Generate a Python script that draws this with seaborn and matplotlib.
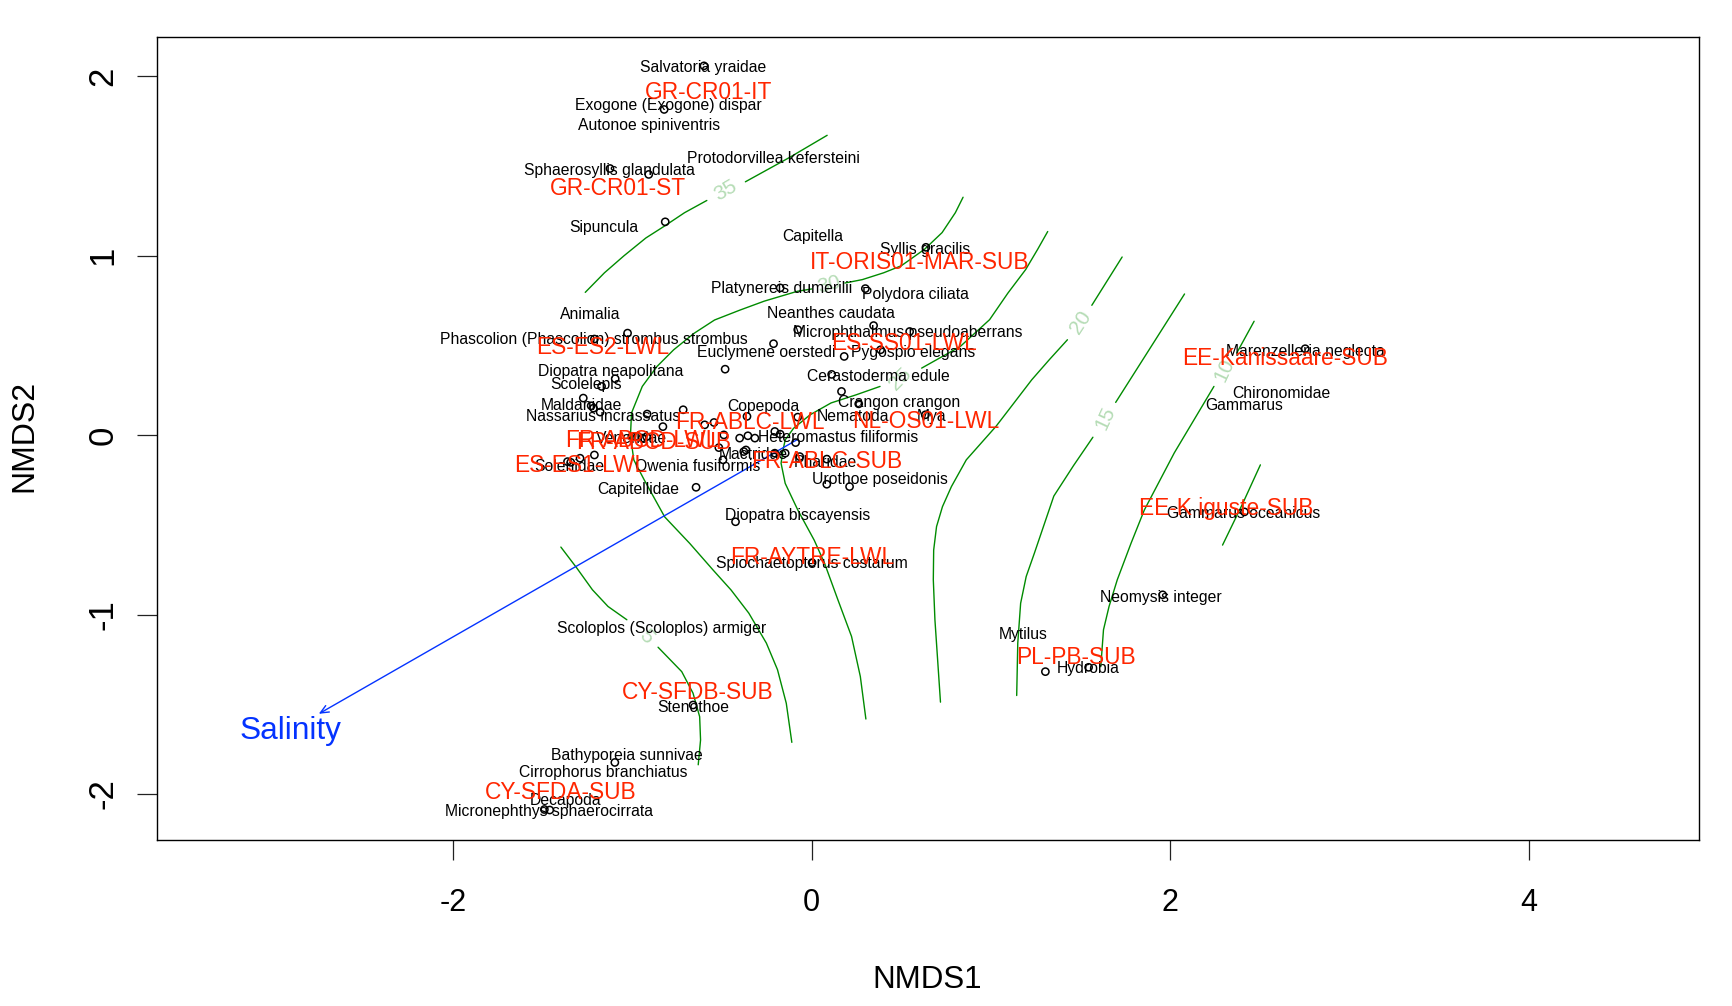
import numpy as np
import pandas as pd
import matplotlib
matplotlib.use("Agg")
import matplotlib.pyplot as plt
from matplotlib.transforms import offset_copy
import seaborn as sns

sns.set_theme(style="white")
plt.rcParams['font.family'] = ['Liberation Sans', 'DejaVu Sans']

species_points_x = [-0.601,-0.823,-1.125,-0.909,-0.817,0.637,-0.176,0.299,-1.027,-1.212,-0.078,0.345,0.546,-0.213,0.181,0.384,-0.483,-1.096,-1.172,0.111,0.166,0.262,-1.274,-1.230,-1.217,-1.180,-0.918,-0.717,-0.597,-0.545,-0.361,-0.078,0.634,-0.830,-0.490,-0.402,-0.356,-0.317,-0.206,-0.176,-0.090,-1.003,-0.969,-0.945,-0.921,-0.518,-0.367,-0.379,-0.206,-0.148,-0.067,0.084,-1.212,-1.292,-1.344,-1.362,-0.495,-0.645,0.084,0.211,-0.425,0.002,-0.662,-1.098,-1.461,-1.491,1.303,1.544,1.957,2.413,2.752]
species_points_y = [2.057,1.814,1.485,1.452,1.188,1.046,0.820,0.816,0.568,0.535,0.587,0.610,0.577,0.509,0.438,0.475,0.367,0.314,0.271,0.338,0.243,0.174,0.206,0.163,0.150,0.128,0.117,0.141,0.057,0.070,0.104,0.100,0.113,0.047,0.001,-0.017,-0.004,-0.017,0.020,0.005,-0.042,-0.008,-0.008,-0.017,-0.009,-0.070,-0.083,-0.092,-0.101,-0.101,-0.120,-0.134,-0.111,-0.129,-0.152,-0.148,-0.138,-0.291,-0.274,-0.287,-0.483,-0.711,-1.504,-1.824,-2.089,-2.086,-1.318,-1.294,-0.890,-0.428,0.481]

species_names = ["Salvatoria yraidae","Exogone (Exogone) dispar","Autonoe spiniventris","Protodorvillea kefersteini","Sphaerosyllis glandulata","Sipuncula","Capitella","Syllis gracilis","Platynereis dumerilii","Polydora ciliata","Neanthes caudata","Animalia","Phascolion (Phascolion) strombus strombus","Microphthalmus pseudoaberrans","Euclymene oerstedi","Pygospio elegans","Diopatra neapolitana","Cerastoderma edule","Scolelepis","Maldanidae","Crangon crangon","Copepoda","Nassarius incrassatus","Nematoda","Mya","Heteromastus filiformis","Veneridae","Mactridae","Pharidae","Solenidae","Owenia fusiformis","Capitellidae","Urothoe poseidonis","Diopatra biscayensis","Spiochaetopterus costarum","Scoloplos (Scoloplos) armiger","Stenothoe","Bathyporeia sunnivae","Cirrophorus branchiatus","Decapoda","Micronephthys sphaerocirrata","Mytilus","Hydrobia","Neomysis integer","Gammarus oceanicus","Gammarus","Chironomidae","Marenzelleria neglecta"]
species_x = [-0.604,-0.801,-0.906,-0.216,-1.128,-1.159,0.006,0.635,-0.166,0.579,0.105,-1.233,-1.214,0.536,-0.253,0.567,-1.122,0.370,-1.257,-1.282,0.487,-0.271,-1.165,0.228,0.666,0.148,-1.005,-0.327,0.074,-1.350,-0.635,-0.968,0.382,-0.080,0.0,-0.838,-0.659,-1.029,-1.165,-1.374,-1.467,1.177,1.541,1.948,2.410,2.410,2.619,2.755]
species_y = [2.058,1.843,1.732,1.547,1.485,1.165,1.115,1.042,0.826,0.789,0.684,0.678,0.542,0.579,0.468,0.468,0.364,0.333,0.290,0.173,0.191,0.166,0.111,0.111,0.111,-0.006,-0.012,-0.099,-0.142,-0.166,-0.166,-0.296,-0.240,-0.438,-0.709,-1.072,-1.510,-1.775,-1.874,-2.028,-2.089,-1.103,-1.294,-0.894,-0.431,0.173,0.240,0.475]

site_names = ["GR-CR01-IT","GR-CR01-ST","IT-ORIS01-MAR-SUB","ES-SS01-LWL","ES-ES2-LWL","FR-ABLC-LWL","NL-OS01-LWL","FR-ABCD-LWL","FR-ABCD-SUB","ES-ES1-LWL","FR-ABLC-SUB","FR-AYTRE-LWL","EE-Kanissaare-SUB","EE-K iguste-SUB","PL-PB-SUB","CY-SFDB-SUB","CY-SFDA-SUB"]
site_x = [-0.573,-1.079,0.604,0.512,-1.165,-0.345,0.635,-0.946,-0.881,-1.288,0.083,0.0,2.638,2.311,1.473,-0.635,-1.399]
site_y = [1.923,1.387,0.974,0.524,0.499,0.086,0.092,-0.018,-0.030,-0.154,-0.136,-0.666,0.438,-0.394,-1.226,-1.418,-1.978]

salinity_start = (-0.080, -0.025)
salinity_end = (-2.749, -1.553)
salinity_label = (-2.909, -1.633)

contour_segments = [
    ([-1.263,-1.156,-1.048,-0.925,-0.820,-0.709,-0.585], [0.795,0.904,0.998,1.098,1.165,1.239,1.307]),
    ([-0.370,-0.123,0.086], [1.411,1.547,1.670]),
    ([0.844,0.801,0.727,0.629,0.499,0.401,0.282,0.185], [1.325,1.239,1.128,1.035,0.943,0.904,0.866,0.847]),
    ([0.0,-0.080,-0.265,-0.401,-0.542,-0.656,-0.770,-0.863,-0.945,-1.005,-1.011,-0.992,-0.934,-0.820,-0.680,-0.551,-0.450,-0.351,-0.253,-0.191,-0.142,-0.111],
     [0.814,0.801,0.746,0.696,0.641,0.567,0.475,0.382,0.271,0.123,-0.006,-0.139,-0.250,-0.456,-0.604,-0.751,-0.863,-0.992,-1.159,-1.307,-1.494,-1.712]),
    ([1.316,1.260,1.193,1.094,0.992,0.829,0.613], [1.134,1.035,0.922,0.791,0.643,0.494,0.373]),
    ([0.381,0.247,0.108,-0.009,-0.102,-0.148,-0.160,-0.171,-0.148,-0.078,0.014,0.071,0.146,0.222,0.271,0.302],
     [0.271,0.224,0.179,0.113,0.037,-0.027,-0.083,-0.157,-0.269,-0.417,-0.586,-0.713,-0.918,-1.122,-1.345,-1.582]),
    ([1.731,1.562], [0.992,0.723]),
    ([1.426,1.325,1.227,1.128,1.028,0.862,0.779,0.729,0.696,0.680,0.678,0.687,0.718],
     [0.531,0.420,0.308,0.179,0.049,-0.138,-0.287,-0.399,-0.510,-0.641,-0.806,-1.029,-1.488]),
    ([2.079,1.695], [0.786,0.182]),
    ([1.568,1.460,1.350,1.242,1.196,1.165,1.149,1.143], [-0.012,-0.170,-0.340,-0.657,-0.788,-0.937,-1.159,-1.451]),
    ([2.467,2.370], [0.634,0.457]),
    ([2.243,2.022,1.855,1.781,1.704,1.658,1.627,1.612], [0.271,-0.099,-0.417,-0.602,-0.806,-0.955,-1.085,-1.290]),
    ([2.502,2.404,2.291], [-0.166,-0.380,-0.613]),
    ([-1.399,-1.310,-1.223,-1.136,-1.031], [-0.624,-0.741,-0.862,-0.955,-1.029]),
    ([-0.857,-0.725,-0.662,-0.625,-0.620,-0.633], [-1.182,-1.318,-1.438,-1.569,-1.699,-1.837]),
]
contour_labels = ["35","30","25","20","15","10","5"]
contour_label_x = [-0.481,0.099,0.493,1.498,1.639,2.299,-0.925]
contour_label_y = [1.362,0.838,0.314,0.629,0.092,0.364,-1.122]
contour_label_rot = [30,15,45,57,65,65,-48]

x_ticks = [-2,0,2,4]
y_ticks = [-2,-1,0,1,2]

W, H = 1732, 1006
fig = plt.figure(figsize=(W/100, H/100), dpi=100, facecolor="white")
ax = fig.add_axes([157.4/W, 1-840/H, (1699-157.4)/W, (840-37.3)/H])
ax.set_facecolor("white")

rows = []
for i, (xs, ys) in enumerate(contour_segments):
    for a, b in zip(xs, ys):
        rows.append((i, a, b))
cdf = pd.DataFrame(rows, columns=["seg", "x", "y"])
sns.lineplot(data=cdf, x="x", y="y", units="seg", estimator=None, sort=False,
             color="#008B00", linewidth=1.0, ax=ax, legend=False)

for s, a, b, r in zip(contour_labels, contour_label_x, contour_label_y, contour_label_rot):
    ax.text(a, b, s, color="#b5dcb5", fontsize=15, rotation=r, ha="center", va="center")

ax.annotate("", xy=salinity_end, xytext=salinity_start,
            arrowprops=dict(arrowstyle="->,head_length=0.5,head_width=0.22", color="#0433FF",
                            lw=1.0, shrinkA=0, shrinkB=0))
trans_salinity = offset_copy(ax.transData, fig=fig, y=-3.3, units="dots")
ax.text(*salinity_label, "Salinity", color="#0433FF", fontsize=22.8, ha="center", va="center",
        transform=trans_salinity)

sns.scatterplot(x=species_points_x, y=species_points_y, s=27, marker="o",
                facecolor="none", edgecolor="black", linewidth=1.1, ax=ax, legend=False, zorder=3)

trans_species = offset_copy(ax.transData, fig=fig, y=-1.5, units="dots")
trans_sites = offset_copy(ax.transData, fig=fig, y=-2.5, units="dots")
for s, a, b in zip(species_names, species_x, species_y):
    ax.text(a, b, s, color="black", fontsize=11.35, ha="center", va="center", zorder=4,
            transform=trans_species)
for s, a, b in zip(site_names, site_x, site_y):
    ax.text(a, b, s, color="#FF2600", fontsize=16.4, ha="center", va="center", zorder=5,
            transform=trans_sites)

ax.set_xlim(-3.649, 4.948)
ax.set_ylim(-2.256, 2.216)
ax.set_xticks(x_ticks)
ax.set_yticks(y_ticks)
ax.set_xticklabels([str(v) for v in x_ticks])
ax.set_yticklabels([str(v) for v in y_ticks], rotation=90, va="center")
ax.tick_params(axis="x", direction="out", bottom=True, length=14.4, width=0.9, color="#222222", labelsize=22, pad=20, labelcolor="black")
ax.tick_params(axis="y", direction="out", left=True, length=14.4, width=0.9, color="#222222", labelsize=25, pad=13, labelcolor="black")
for sp in ax.spines.values():
    sp.set_visible(True)
    sp.set_color("black")
    sp.set_linewidth(1.0)
ax.grid(False)
ax.set_xlabel("NMDS1", fontsize=22.5, color="black")
ax.set_ylabel("NMDS2", fontsize=23, color="black")
ax.xaxis.set_label_coords(0.4994, -0.174)
ax.yaxis.set_label_coords(-0.0862, 0.503)
ax.xaxis.label.set_va("center")
ax.yaxis.label.set_va("center")

fig.savefig("out.png", dpi=100)
